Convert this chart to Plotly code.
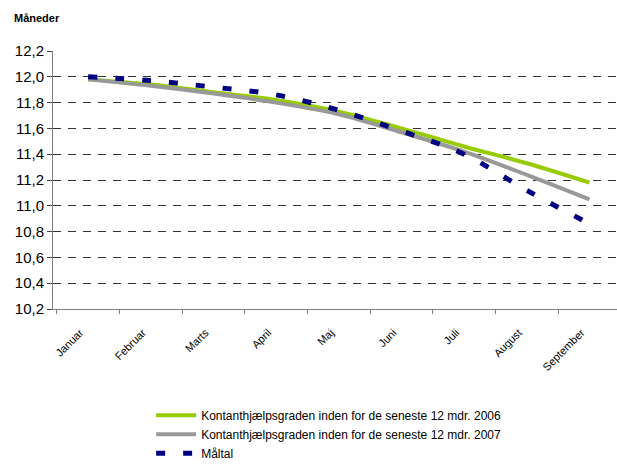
import plotly.graph_objects as go

months = ["Januar", "Februar", "Marts", "April", "Maj", "Juni", "Juli", "August", "September"]
grad_2006 = [11.98, 11.94, 11.88, 11.82, 11.73, 11.60, 11.46, 11.33, 11.18]
grad_2007 = [11.98, 11.93, 11.87, 11.80, 11.71, 11.57, 11.42, 11.24, 11.05]
maaltal = [12.00, 11.97, 11.92, 11.86, 11.74, 11.58, 11.40, 11.12, 10.86]

name_2006 = "Kontanthjælpsgraden inden for de seneste 12 mdr. 2006"
name_2007 = "Kontanthjælpsgraden inden for de seneste 12 mdr. 2007"
name_maal = "Måltal"

fig = go.Figure()
fig.add_trace(go.Scatter(x=months, y=grad_2006, name=name_2006, mode="lines",
                         line=dict(color="#99CC00", width=4, shape="spline")))
fig.add_trace(go.Scatter(x=months, y=grad_2007, name=name_2007, mode="lines",
                         line=dict(color="#999999", width=4, shape="spline")))
fig.add_trace(go.Scatter(x=months, y=maaltal, name=name_maal, mode="lines",
                         line=dict(color="#000080", width=5, dash="9px,18px", shape="spline")))

fig.update_layout(
    width=617, height=468,
    margin=dict(l=53, r=0, t=51, b=148),
    paper_bgcolor="white", plot_bgcolor="white",
    separators=",.",
    font=dict(family="Liberation Sans, Arial, sans-serif", color="black"),
    showlegend=True,
    legend=dict(x=0.174, y=-0.356, xanchor="left", yanchor="top",
                font=dict(size=12), bgcolor="rgba(0,0,0,0)",
                tracegroupgap=0, itemwidth=40),
    annotations=[dict(text="<b>Måneder</b>", x=(12 - 53) / 564, y=(320 - 18) / 268,
                      xref="paper", yref="paper",
                      showarrow=False, font=dict(size=11), xanchor="left", yanchor="middle")],
)

fig.update_xaxes(
    type="category", range=[-0.56, 8.44], automargin=False,
    showline=True, linecolor="#808080", linewidth=1,
    ticks="outside", ticklen=4, tickcolor="#808080", tickson="boundaries",
    tickangle=-45, tickfont=dict(size=11),
    ticklabelshift=-8, ticklabelstandoff=12,
    showgrid=False, zeroline=False,
)
fig.update_yaxes(
    range=[10.2, 12.2], dtick=0.2, tick0=10.2, tickformat=".1f", automargin=False,
    showline=True, linecolor="#808080", linewidth=1,
    ticks="outside", ticklen=5, tickcolor="#404040",
    tickfont=dict(size=15),
    showgrid=True, gridcolor="#333333", gridwidth=1, griddash="8px,7px",
    zeroline=False,
)

fig.write_html("out.html", config={"displayModeBar": False},
               post_script="document.body.style.margin='0';document.body.style.overflow='hidden';")
